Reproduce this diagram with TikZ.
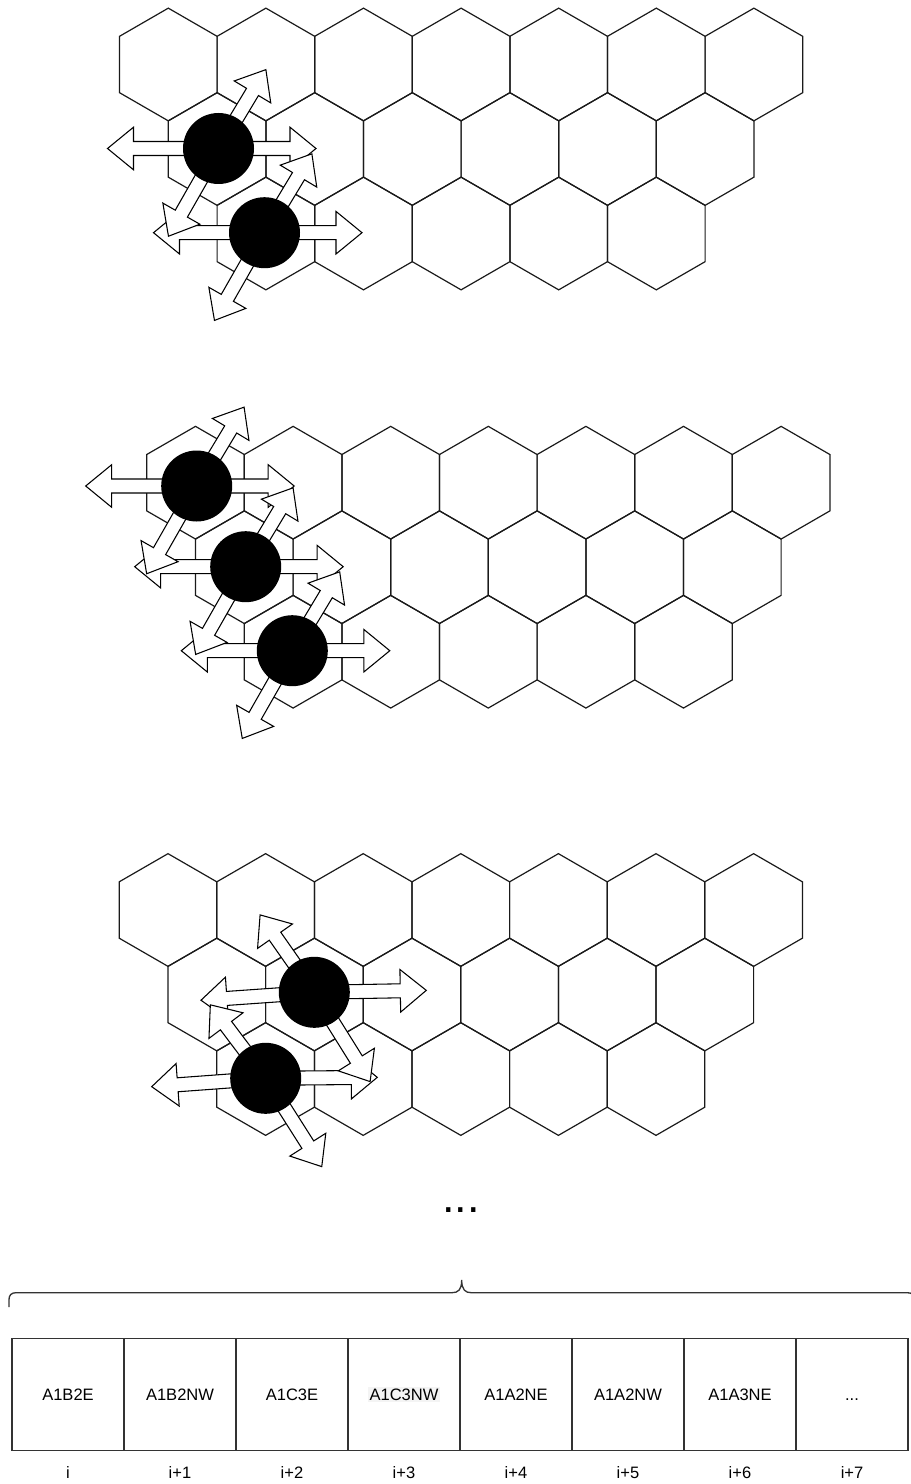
\documentclass[tikz,border=0pt]{standalone}
\usepackage{fontspec}
\setmainfont{Liberation Sans}
\usetikzlibrary{positioning,backgrounds}
\definecolor{GridInk}{HTML}{1A1A1A}
\definecolor{TableInk}{HTML}{333333}
\definecolor{LabelShade}{HTML}{F4F4F4}

\tikzset{
  hexline/.style={draw=GridInk, line width=0.9pt, line join=miter},
  arrowline/.style={draw=black, fill=white, line width=0.8pt, line join=miter},
  pics/hexfield/.style={code={
    \foreach \row/\last in {0/6,1/5,2/4}
      \foreach \col in {0,...,\last}
        \draw[hexline, shift={({\row*48.8+\col*97.6},{-\row*84.5})}]
          (30:56.35) -- (90:56.35) -- (150:56.35) -- (210:56.35)
          -- (270:56.35) -- (330:56.35) -- cycle;
  }},
  pics/blockarrow/.style={code={
    \draw[arrowline] (0,-7) -- ({#1-26},-7) -- ({#1-26},-21.3) -- (#1,0)
      -- ({#1-26},21.3) -- ({#1-26},7) -- (0,7) -- cycle;
  }}
}

\begin{document}
\begin{tikzpicture}[x=0.75pt, y=0.75pt,
  bead/.style={circle, fill=black, inner sep=0pt, minimum size=53.25pt},
  cell/.style={draw=TableInk, line width=1pt, outer sep=0pt, inner sep=0pt,
               minimum size=84pt, text height=8.9pt, text depth=0pt,
               font=\fontsize{12.4}{15}\selectfont},
  idx/.style={inner sep=0pt, text height=8.9pt, text depth=0pt,
              font=\fontsize{12.4}{15}\selectfont},
  bracket/.style={draw=TableInk, line width=1pt}]
  \useasboundingbox (0,0) rectangle (910,-1484);

  % top field
  \node[bead] (t1) at (218.5,-148.5) {};
  \node[bead] (t2) at (264.5,-232.7) {};
  % middle field
  \node[bead] (m1) at (196.7,-486) {};
  \node[bead] (m2) at (245.7,-566.7) {};
  \node[bead] (m3) at (292.3,-650.7) {};
  % bottom field
  \node[bead] (b1) at (314.3,-992.3) {};
  \node[bead] (b2) at (265.7,-1078.3) {};

  \begin{scope}[on background layer]
    \pic at (168.3,-64.5) {hexfield};
    \pic at (195.5,-482.7) {hexfield};
    \pic at (168,-910) {hexfield};

    \foreach \c in {t2,t1,m3,m2,m1} {
      \pic[rotate=180] at (\c) {blockarrow=111};
      \pic at (\c) {blockarrow=97.5};
      \pic[rotate=240.3] at (\c) {blockarrow=101};
    }
    \foreach \c in {t1,t2,m1,m2,m3}
      \pic[rotate=59] at (\c) {blockarrow=92};

    \pic[rotate=0.5] at (b2) {blockarrow=111.6};
    \pic[rotate=184.2] at (b2) {blockarrow=114.3};
    \pic[rotate=-57.6] at (b2) {blockarrow=104.6};
    \pic[rotate=1] at (b1) {blockarrow=112};
    \pic[rotate=184] at (b1) {blockarrow=113.6};
    \pic[rotate=125] at (b1) {blockarrow=94.5};
    \pic[rotate=-58] at (b1) {blockarrow=105.3};
    \pic[rotate=127] at (b2) {blockarrow=92};
  \end{scope}

  \node[inner sep=0pt, font=\fontsize{33.75}{40}\selectfont] (more) at (461,-1210) {...};

  \draw[bracket] (9,-1307) -- (9,-1299.5) .. controls (9,-1295) and (11.5,-1292.7) .. (16,-1292.7)
    -- (452,-1292.7) .. controls (458,-1292.7) and (461.7,-1290) .. (461.7,-1280)
    .. controls (461.7,-1290) and (465.4,-1292.7) .. (471.4,-1292.7)
    -- (907.4,-1292.7) .. controls (912,-1292.7) and (914.4,-1295) .. (914.4,-1299.5) -- (914.4,-1307);

  \node[cell] (c0) at (68,-1394.2) {A1B2E};
  \node[cell, right=0pt of c0] (c1) {A1B2NW};
  \node[cell, right=0pt of c1] (c2) {A1C3E};
  \node[cell, right=0pt of c2] (c3) {{\fboxsep=1pt\colorbox{LabelShade}{A1C3NW}}};
  \node[cell, right=0pt of c3] (c4) {A1A2NE};
  \node[cell, right=0pt of c4] (c5) {A1A2NW};
  \node[cell, right=0pt of c5] (c6) {A1A3NE};
  \node[cell, right=0pt of c6] (c7) {...};
  \foreach \i in {0,...,7}
    \node[idx, below=11.8pt of c\i] (n\i) {i\ifnum\i>0 +\i\fi};
\end{tikzpicture}
\end{document}
